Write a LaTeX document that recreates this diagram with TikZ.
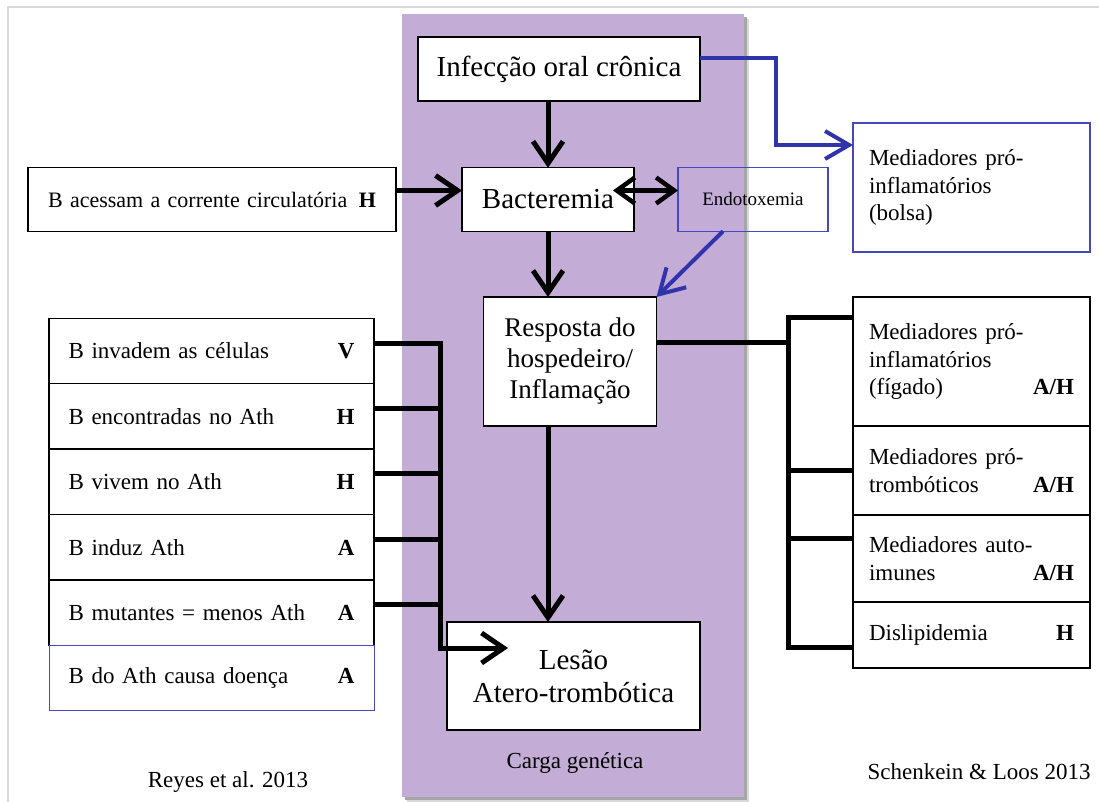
\documentclass[tikz,border=0pt]{standalone}
\usepackage{fontspec}
\setmainfont{Liberation Serif}
\usetikzlibrary{positioning,arrows.meta}
\definecolor{band}{RGB}{195,173,214}
\definecolor{linkblue}{RGB}{48,52,170}
\definecolor{boxblue}{RGB}{72,72,190}

\begin{document}
\begin{tikzpicture}
[x=1pt,y=-1pt,
 every node/.style={inner sep=0pt,outer sep=0pt},
 box/.style={draw,line width=1.4pt,fill=white,align=center},
 big/.style={font=\fontsize{29}{33}\selectfont},
 item/.style={box,minimum width=325pt,minimum height=65.4pt,text width=286pt,
   inner xsep=19.5pt,align=left,font=\fontsize{23}{28}\selectfont},
 medbox/.style={box,minimum width=237pt,text width=205pt,inner xsep=16pt,
   align=left,font=\fontsize{23}{27.5}\selectfont},
 conn/.style={line width=5pt},
 arr/.style={conn,-{Straight Barb[length=22pt,width=30pt]}},
 dblarr/.style={line width=4.5pt,{Straight Barb[length=18pt,width=26pt]}-{Straight Barb[length=18pt,width=26pt]}},
 bluearr/.style={line width=4pt,linkblue,-{Straight Barb[length=24pt,width=28pt]}},
 cite/.style={font=\fontsize{23}{28}\selectfont}]
\useasboundingbox (0,0) rectangle (1099,802);
\draw[black!15,line width=1.5pt] (8,802) -- (8,7) -- (1099,7);
% genetic background band
\fill[black!15] (407,19) rectangle (749,802);
\fill[black!35] (405,17) rectangle (747,800);
\fill[band] (402,14) rectangle (744,797);
\node[cite] (carga) at (575,763) {Carga genética};

% central chain
\node[box,big,minimum width=282pt,minimum height=64pt] (inf) at (559,69) {Infecção oral crônica};
\node[box,big,minimum width=172pt,minimum height=63.5pt] (bac) at (548,199.5) {Bacteremia};
\node[draw=boxblue,line width=1.2pt,minimum width=150pt,minimum height=63.5pt,
  font=\fontsize{19}{22}\selectfont] (endo) at (753,199.5) {Endotoxemia};
\node[box,minimum width=173pt,minimum height=129pt,font=\fontsize{27}{31}\selectfont]
  (resp) at (570,361.5) {Resposta do\\hospedeiro/\\Inflamação};
\node[box,big,minimum width=253pt,minimum height=108pt] (lesao) at (573.5,676) {Lesão\\Atero-trombótica};
\node[box,minimum width=368pt,minimum height=63.5pt,text width=328pt,inner xsep=20pt,
  align=left,font=\fontsize{22}{26}\selectfont] (acc) at (212,199.5)
  {B acessam a corrente circulatória\hfill\textbf{H}};
\node[medbox,draw=boxblue,minimum height=129pt] (bolsa) at (971.5,187.5)
  {Mediadores pró-\\inflamatórios\\(bolsa)};

% Reyes et al.
\node[item] (l1) at (211.5,351) {B invadem as células\hfill\textbf{V}};
\node[item,below=0pt of l1] (l2) {B encontradas no Ath\hfill\textbf{H}};
\node[item,below=0pt of l2] (l3) {B vivem no Ath\hfill\textbf{H}};
\node[item,below=0pt of l3] (l4) {B induz Ath\hfill\textbf{A}};
\node[item,below=0pt of l4] (l5) {B mutantes = menos Ath\hfill\textbf{A}};
\node[item,draw=boxblue,line width=1pt,below=0pt of l5] (l6) {B do Ath causa doença\hfill\textbf{A}};
\node[cite] (reyes) at (228,782) {Reyes et al. 2013};

% Schenkein & Loos
\node[medbox,minimum height=129pt] (r1) at (971.5,361.5) {Mediadores pró-\\inflamatórios\\(fígado)\hfill\textbf{A/H}};
\node[medbox,minimum height=89pt,below=0pt of r1] (r2) {Mediadores pró-\\trombóticos\hfill\textbf{A/H}};
\node[medbox,minimum height=87pt,below=0pt of r2] (r3) {Mediadores auto-\\imunes\hfill\textbf{A/H}};
\node[medbox,minimum height=66pt,below=0pt of r3] (r4) {Dislipidemia\hfill\textbf{H}};
\node[cite] (schen) at (979,772) {Schenkein \& Loos 2013};

\coordinate (lj) at (440,648);
\coordinate (lt) at (508,648);
\coordinate (rj) at (788,342);
\coordinate (bk) at (776,145);

\draw[arr] (inf.south -| bac.north) -- (bac.north);
\draw[arr] (bac.south) -- (resp.north -| bac.south);
\draw[arr] (resp.south -| bac.south) -- (lesao.north -| bac.south);
\draw[arr] ([yshift=9pt]acc.east) -- ([yshift=9pt]bac.west);
\draw[dblarr] ([yshift=9pt]endo.west) -- ([xshift=-21pt,yshift=9pt]bac.east);
\draw[bluearr] ([yshift=11pt]inf.east) -| (bk) -- (bk -| bolsa.west);
\draw[bluearr] ([xshift=-30pt]endo.south) -- (resp.north east);

\draw[arr] ([yshift=8pt]l1.east) -| (lj) -- (lt);
\foreach \n in {l2,l3,l4,l5}
\draw[conn] ([yshift=8pt]\n.east) -- ([yshift=8pt]\n.east -| lj);

\draw[conn] ([yshift=19.5pt]resp.east) -- (rj);
\draw[conn] ([yshift=-20pt]r1.north west) -- ([yshift=-20pt]r1.north west -| rj)
  |- ([yshift=21pt]r4.south west);
\draw[conn] (r2.west) -- (r2.west -| rj);
\draw[conn] ([yshift=20pt]r3.west) -- ([yshift=20pt]r3.west -| rj);
\end{tikzpicture}
\end{document}
